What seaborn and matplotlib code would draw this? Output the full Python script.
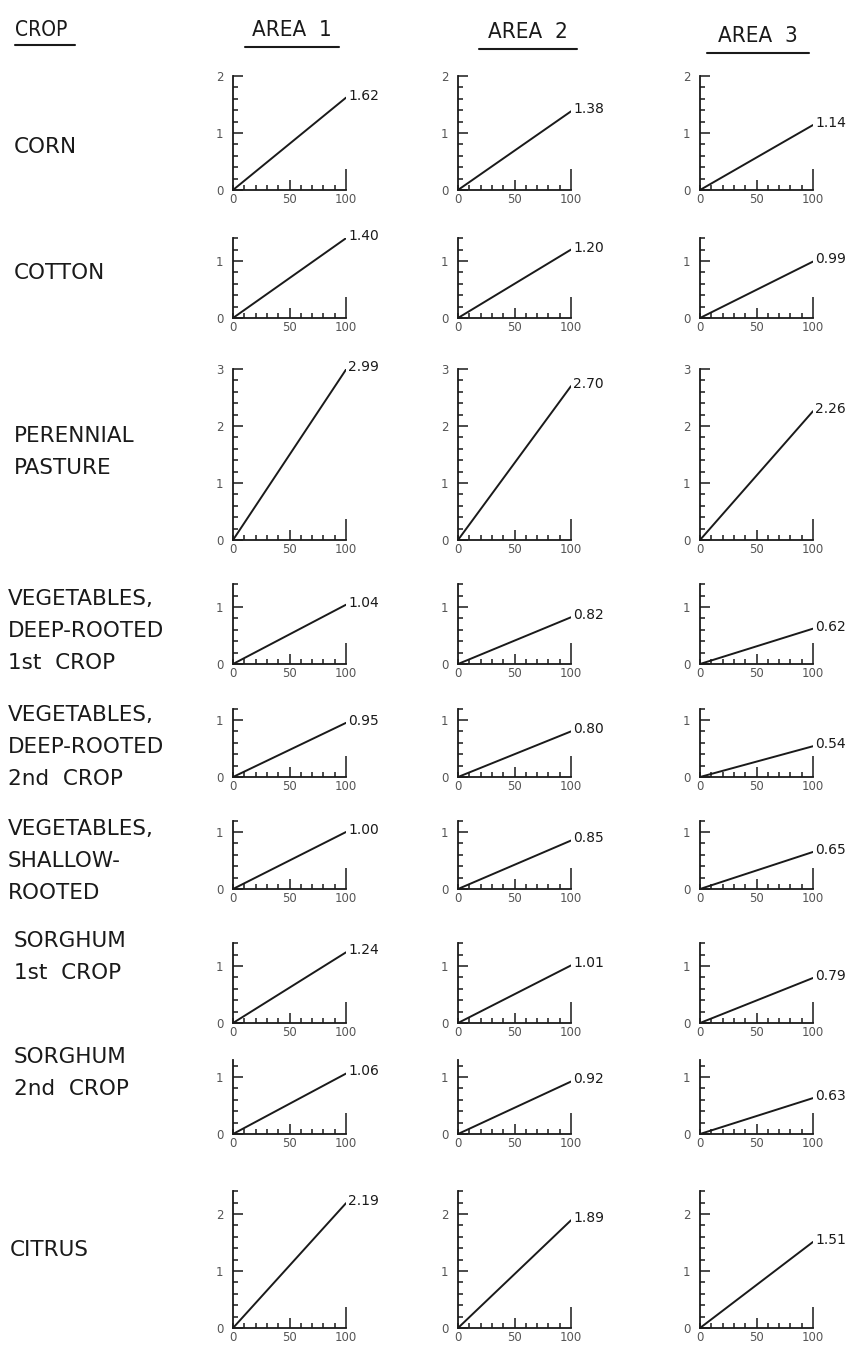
import matplotlib
matplotlib.use("Agg")
import matplotlib.pyplot as plt
from matplotlib.lines import Line2D
from matplotlib.ticker import MultipleLocator
import seaborn as sns
import pandas as pd

sns.set_style("white")
plt.rcParams['font.family'] = ['DejaVu Sans']

# ---- data ----
crops = ["CORN", "COTTON", "PERENNIAL\nPASTURE",
         "VEGETABLES,\nDEEP-ROOTED\n1st  CROP",
         "VEGETABLES,\nDEEP-ROOTED\n2nd  CROP",
         "VEGETABLES,\nSHALLOW-\nROOTED",
         "SORGHUM\n1st  CROP", "SORGHUM\n2nd  CROP", "CITRUS"]
areas = ["AREA  1", "AREA  2", "AREA  3"]
x_pct = [0, 100]
area1 = [1.62, 1.40, 2.99, 1.04, 0.95, 1.00, 1.24, 1.06, 2.19]
area2 = [1.38, 1.20, 2.70, 0.82, 0.80, 0.85, 1.01, 0.92, 1.89]
area3 = [1.14, 0.99, 2.26, 0.62, 0.54, 0.65, 0.79, 0.63, 1.51]
row_ymax = [2.0, 1.4, 3.0, 1.4, 1.2, 1.2, 1.4, 1.3, 2.4]
x_ticks = [0, 50, 100]

# ---- layout (pixels) ----
W, H = 861, 1347
row_zero_px = [190, 318, 540, 664, 777, 889, 1023, 1134, 1328]
px_per_unit = 57
col_left_px = [233, 458, 700]
col_w_px = 113
label_y_px = [147, 273, 452, 631, 747, 861, 957, 1073, 1250]
label_x_px = [14, 14, 14, 8, 8, 8, 14, 14, 10]

fig = plt.figure(figsize=(W / 100, H / 100), dpi=100)
fig.patch.set_facecolor("white")

values = [area1, area2, area3]
ink = "#1a1a1a"
grey = "#555555"

for r in range(len(crops)):
    ymax = row_ymax[r]
    h = ymax * px_per_unit
    for c in range(3):
        v = values[c][r]
        left = col_left_px[c] / W
        bottom = (H - row_zero_px[r]) / H
        ax = fig.add_axes([left, bottom, col_w_px / W, h / H])
        df = pd.DataFrame({"pct": x_pct, "val": [0, v]})
        sns.lineplot(data=df, x="pct", y="val", ax=ax, color=ink, lw=1.4)
        ax.set_xlim(0, 100)
        ax.set_ylim(0, ymax)
        ax.set_xlabel("")
        ax.set_ylabel("")
        ax.set_facecolor("none")
        for s in ["top", "right"]:
            ax.spines[s].set_visible(False)
        for s in ["left", "bottom"]:
            ax.spines[s].set_linewidth(1.3)
            ax.spines[s].set_color(ink)
        ax.set_xticks(x_ticks)
        ax.set_xticklabels([str(t) for t in x_ticks])
        ax.xaxis.set_minor_locator(MultipleLocator(10))
        yt = [k for k in range(0, int(ymax) + 1)]
        ax.set_yticks(yt)
        ax.set_yticklabels([str(k) for k in yt])
        ax.yaxis.set_minor_locator(MultipleLocator(0.2))
        ax.tick_params(axis="both", which="both", direction="in", color=ink,
                       width=1.1, bottom=True, left=True, top=False,
                       right=False)
        ax.tick_params(axis="both", which="major", length=7.5,
                       labelsize=8.5, labelcolor=grey)
        ax.tick_params(axis="both", which="minor", length=3.8)
        ax.tick_params(axis="y", which="major", pad=7)
        ax.tick_params(axis="x", which="major", pad=2)
        # long end bar at 100
        xt = ax.xaxis.get_major_ticks()
        xt[0].tick1line.set_markersize(3.8)
        xt[2].tick1line.set_markersize(15)
        for t in ax.xaxis.get_major_ticks() + ax.yaxis.get_major_ticks() \
                + ax.xaxis.get_minor_ticks() + ax.yaxis.get_minor_ticks():
            t.tick1line.set_clip_on(False)
        ax.annotate(f"{v:.2f}", xy=(100, v), xytext=(1.5, 1.5),
                    textcoords="offset points", ha="left", va="center",
                    fontsize=10, color=ink, annotation_clip=False)

    fig.text(label_x_px[r] / W, 1 - label_y_px[r] / H, crops[r],
             ha="left", va="center", fontsize=15.5, color=ink,
             linespacing=1.72)

# headers
hdr_y = 1 - 30 / H
fig.text(15 / W, hdr_y, "CROP", ha="left", va="center", fontsize=15,
         color=ink, fontstretch="condensed")
fig.add_artist(Line2D([15 / W, 75 / W], [1 - 45 / H] * 2, color=ink, lw=1.5))
hdr_cx = [292, 528, 758]
hdr_dy = [0, 2, 6]
hdr_half = [47, 49, 51]
for i, name in enumerate(areas):
    y = 1 - (30 + hdr_dy[i]) / H
    fig.text(hdr_cx[i] / W, y, name, ha="center", va="center", fontsize=16,
             color=ink, fontstretch="condensed")
    yl = 1 - (47 + hdr_dy[i]) / H
    fig.add_artist(Line2D([(hdr_cx[i] - hdr_half[i]) / W,
                           (hdr_cx[i] + hdr_half[i]) / W], [yl, yl],
                          color=ink, lw=1.5))

fig.savefig("out.png", dpi=100, facecolor="white")
